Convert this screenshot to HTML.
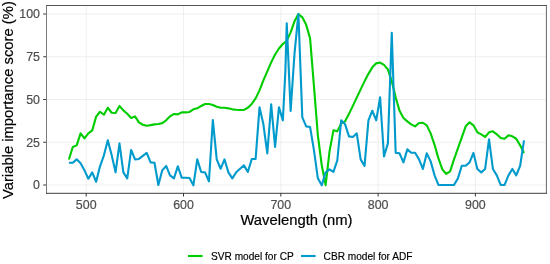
<!DOCTYPE html>
<html><head><meta charset="utf-8"><style>
html,body{margin:0;padding:0;background:#fff;}
svg{display:block}
text{font-family:"Liberation Sans",sans-serif;}
.tk{font-size:12.4px;fill:#4d4d4d;stroke:#4d4d4d;stroke-width:0.18px}
.ti{font-size:14.8px;fill:#000;stroke:#000;stroke-width:0.2px}
.lg{font-size:10.15px;fill:#000;stroke:#000;stroke-width:0.15px}
</style></head><body>
<svg style="will-change:transform" width="550" height="264" viewBox="0 0 550 264">
<rect width="550" height="264" fill="#fff"/>
<line x1="46.5" x2="546.4" y1="185.00" y2="185.00" stroke="#ebebeb" stroke-width="0.8"/>
<line x1="43.3" x2="46.5" y1="185.00" y2="185.00" stroke="#333" stroke-width="1"/>
<text x="40" y="189.30" text-anchor="end" class="tk">0</text>
<line x1="46.5" x2="546.4" y1="142.25" y2="142.25" stroke="#ebebeb" stroke-width="0.8"/>
<line x1="43.3" x2="46.5" y1="142.25" y2="142.25" stroke="#333" stroke-width="1"/>
<text x="40" y="146.55" text-anchor="end" class="tk">25</text>
<line x1="46.5" x2="546.4" y1="99.50" y2="99.50" stroke="#ebebeb" stroke-width="0.8"/>
<line x1="43.3" x2="46.5" y1="99.50" y2="99.50" stroke="#333" stroke-width="1"/>
<text x="40" y="103.80" text-anchor="end" class="tk">50</text>
<line x1="46.5" x2="546.4" y1="56.75" y2="56.75" stroke="#ebebeb" stroke-width="0.8"/>
<line x1="43.3" x2="46.5" y1="56.75" y2="56.75" stroke="#333" stroke-width="1"/>
<text x="40" y="61.05" text-anchor="end" class="tk">75</text>
<line x1="46.5" x2="546.4" y1="14.00" y2="14.00" stroke="#ebebeb" stroke-width="0.8"/>
<line x1="43.3" x2="46.5" y1="14.00" y2="14.00" stroke="#333" stroke-width="1"/>
<text x="40" y="18.30" text-anchor="end" class="tk">100</text>
<line x1="86.20" x2="86.20" y1="5.5" y2="193.3" stroke="#ebebeb" stroke-width="0.8"/>
<line x1="86.20" x2="86.20" y1="193.3" y2="196.5" stroke="#333" stroke-width="1"/>
<text x="86.20" y="208.6" text-anchor="middle" class="tk">500</text>
<line x1="183.50" x2="183.50" y1="5.5" y2="193.3" stroke="#ebebeb" stroke-width="0.8"/>
<line x1="183.50" x2="183.50" y1="193.3" y2="196.5" stroke="#333" stroke-width="1"/>
<text x="183.50" y="208.6" text-anchor="middle" class="tk">600</text>
<line x1="280.80" x2="280.80" y1="5.5" y2="193.3" stroke="#ebebeb" stroke-width="0.8"/>
<line x1="280.80" x2="280.80" y1="193.3" y2="196.5" stroke="#333" stroke-width="1"/>
<text x="280.80" y="208.6" text-anchor="middle" class="tk">700</text>
<line x1="378.10" x2="378.10" y1="5.5" y2="193.3" stroke="#ebebeb" stroke-width="0.8"/>
<line x1="378.10" x2="378.10" y1="193.3" y2="196.5" stroke="#333" stroke-width="1"/>
<text x="378.10" y="208.6" text-anchor="middle" class="tk">800</text>
<line x1="475.40" x2="475.40" y1="5.5" y2="193.3" stroke="#ebebeb" stroke-width="0.8"/>
<line x1="475.40" x2="475.40" y1="193.3" y2="196.5" stroke="#333" stroke-width="1"/>
<text x="475.40" y="208.6" text-anchor="middle" class="tk">900</text>

<polyline points="68.90,159.45 72.79,146.95 76.68,145.35 80.57,133.35 84.46,138.35 88.35,133.35 92.24,130.35 96.13,116.65 100.02,111.75 103.91,114.75 107.80,107.75 111.69,112.75 115.58,112.95 119.47,105.95 123.36,110.35 127.25,113.75 131.14,117.95 135.03,116.35 138.92,122.35 142.81,124.75 146.70,125.75 150.59,125.15 154.48,124.35 158.37,123.95 162.26,123.15 166.15,120.35 170.04,116.35 173.93,113.95 177.82,114.35 181.71,112.35 185.60,112.35 189.49,111.95 193.38,109.35 197.27,108.35 201.16,105.95 205.05,103.95 208.94,103.95 212.83,104.95 216.72,106.75 220.61,107.75 224.50,107.75 228.39,108.35 232.28,109.35 236.17,109.75 240.06,109.95 243.95,109.95 247.84,107.75 251.73,103.95 255.62,98.35 259.51,90.35 263.40,80.35 267.29,71.35 271.18,62.35 275.07,54.55 278.96,48.55 282.85,44.05 286.74,40.85 290.63,32.35 294.52,21.35 298.41,13.95 302.30,17.35 306.19,24.85 310.08,38.35 313.97,86.35 317.86,135.35 321.75,165.35 325.64,185.15 329.53,151.35 333.42,130.35 337.31,131.35 341.20,123.35 345.09,121.35 348.98,113.85 352.87,105.85 356.76,97.65 360.65,89.35 364.54,81.35 368.43,73.85 372.32,67.35 376.21,63.35 380.10,62.55 383.99,64.85 387.88,69.35 391.77,81.35 395.66,97.35 399.55,110.85 403.44,117.95 407.33,121.35 411.22,124.35 415.11,126.35 419.00,122.95 422.89,122.75 426.78,125.35 430.67,133.35 434.56,144.85 438.45,158.35 442.34,169.35 446.23,173.95 450.12,171.35 454.01,159.35 457.90,148.35 461.79,137.35 465.68,126.35 469.57,122.35 473.46,125.35 477.35,132.35 481.24,134.35 485.13,136.95 489.02,132.35 492.91,131.35 496.80,134.35 500.69,137.95 504.58,138.75 508.47,135.35 512.36,136.35 516.25,138.75 520.14,145.35 524.03,152.95" fill="none" stroke="#00cd00" stroke-width="2.1" stroke-linejoin="round" stroke-linecap="butt"/>
<polyline points="68.90,162.75 72.79,162.75 76.68,159.35 80.57,163.35 84.46,170.35 88.35,178.75 92.24,172.35 96.13,181.75 100.02,166.35 103.91,155.35 107.80,140.35 111.69,155.35 115.58,172.35 119.47,143.35 123.36,172.35 127.25,178.35 131.14,149.95 135.03,159.35 138.92,158.95 142.81,155.95 146.70,152.95 150.59,162.35 154.48,162.75 158.37,184.95 162.26,170.35 166.15,165.95 170.04,175.35 173.93,178.35 177.82,166.35 181.71,177.65 185.60,177.75 189.49,177.95 193.38,185.35 197.27,159.35 201.16,171.95 205.05,172.35 208.94,181.35 212.83,119.95 216.72,159.35 220.61,168.75 224.50,159.35 228.39,172.35 232.28,178.35 236.17,172.35 240.06,168.75 243.95,165.35 247.84,171.95 251.73,158.95 255.62,158.95 259.51,107.35 263.40,124.35 267.29,153.35 271.18,104.35 275.07,146.95 278.96,107.35 282.85,120.35 285.40,70.35 286.74,23.35 290.63,110.95 294.52,53.35 298.41,13.95 302.30,117.35 306.19,126.35 310.08,126.95 313.97,150.35 317.86,178.35 321.75,185.35 325.64,172.35 329.53,169.35 333.42,171.95 337.31,160.35 341.20,120.35 345.09,124.35 348.98,136.35 352.87,136.95 356.76,133.35 360.65,159.35 364.54,165.95 368.43,120.35 372.32,110.75 376.21,120.35 380.10,97.35 383.99,156.35 387.88,143.35 391.77,32.75 395.66,152.75 399.55,153.35 403.44,162.35 407.33,149.35 411.22,152.75 415.11,152.75 419.00,159.35 422.89,168.95 426.78,153.35 430.67,161.35 434.56,175.35 438.45,184.95 442.34,184.95 446.23,184.95 450.12,184.95 454.01,184.95 457.90,178.35 461.79,165.75 465.68,165.75 469.57,162.35 473.46,152.95 477.35,168.95 481.24,172.35 485.13,168.95 489.02,139.35 492.91,168.95 496.80,175.35 500.69,184.95 504.58,184.95 508.47,175.35 512.36,168.95 516.25,175.35 520.14,165.75 524.03,140.35" fill="none" stroke="#009acd" stroke-width="2.1" stroke-linejoin="round" stroke-linecap="butt"/>
<line x1="46.5" x2="46.5" y1="5.0" y2="193.8" stroke="#7c7c7c" stroke-width="1"/>
<line x1="546.4" x2="546.4" y1="5.0" y2="193.8" stroke="#686868" stroke-width="1"/>
<line x1="46.0" x2="546.9" y1="5.5" y2="5.5" stroke="#555" stroke-width="1"/>
<line x1="46.0" x2="546.9" y1="193.3" y2="193.3" stroke="#3c3c3c" stroke-width="1"/>
<text x="296.5" y="224.5" text-anchor="middle" class="ti">Wavelength (nm)</text>
<text transform="translate(12.5,100.1) rotate(-90)" text-anchor="middle" class="ti">Variable importance score (%)</text>
<line x1="188" x2="202.6" y1="256" y2="256" stroke="#00cd00" stroke-width="2.1"/>
<text x="211" y="259.6" class="lg">SVR model for CP</text>
<line x1="301" x2="315.6" y1="256" y2="256" stroke="#009acd" stroke-width="2.1"/>
<text x="323.6" y="259.6" class="lg">CBR model for ADF</text>
</svg>
</body></html>
